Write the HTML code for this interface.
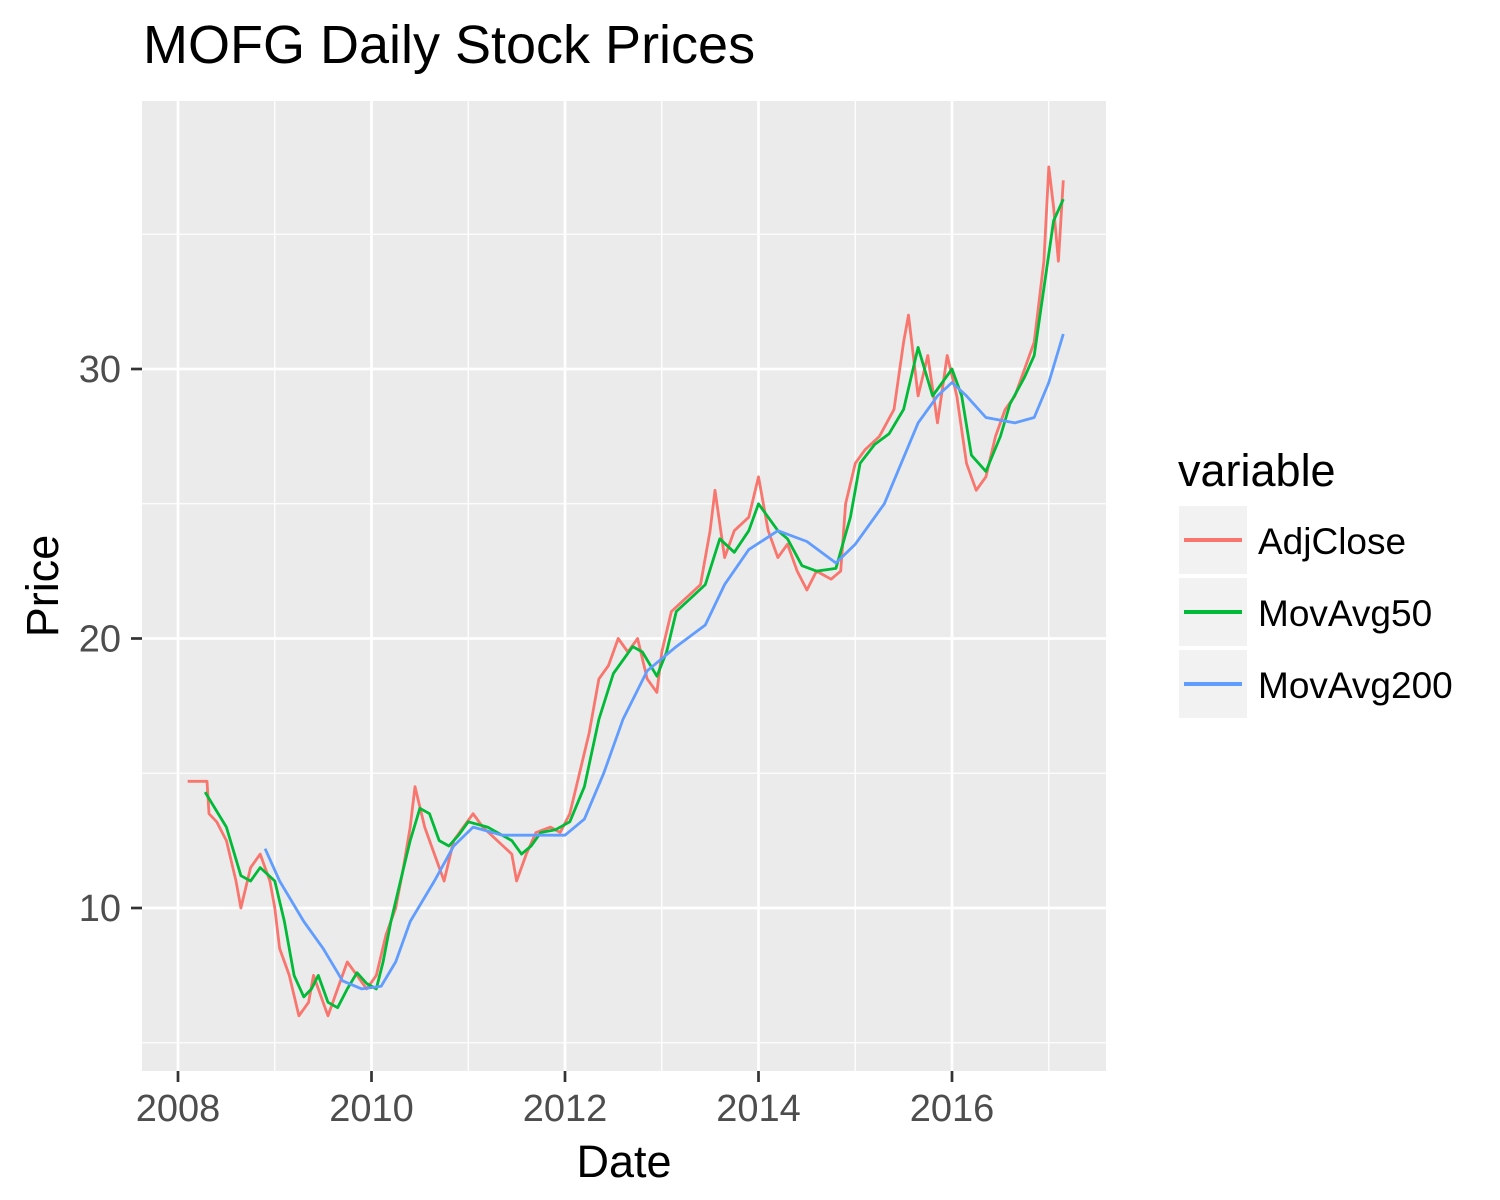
<!DOCTYPE html>
<html><head><meta charset="utf-8"><style>
html,body{margin:0;padding:0;background:#fff;}
svg{display:block;font-family:"Liberation Sans",Arial,sans-serif;}
</style></head><body>
<svg id="chart" width="1500" height="1200">
<text x="143" y="63" font-size="54" fill="#000">MOFG Daily Stock Prices</text>
<rect x="142" y="101" width="964" height="970" fill="#ebebeb"/>
<g id="grid"></g><g id="series"></g><g id="axes"></g>
<text x="624" y="1177" font-size="45" text-anchor="middle" fill="#000">Date</text>
<text transform="translate(58,586) rotate(-90)" font-size="45" text-anchor="middle" fill="#000">Price</text>
<g>
<text x="1178" y="486" font-size="45" fill="#000">variable</text>
<g><rect x="1179" y="506" width="68" height="68" fill="#f2f2f2"/><line x1="1184" x2="1242" y1="540" y2="540" stroke="#F8766D" stroke-width="4"/><text x="1258" y="554" font-size="37">AdjClose</text></g>
<g><rect x="1179" y="578" width="68" height="68" fill="#f2f2f2"/><line x1="1184" x2="1242" y1="612" y2="612" stroke="#00BA38" stroke-width="4"/><text x="1258" y="626" font-size="37">MovAvg50</text></g>
<g><rect x="1179" y="650" width="68" height="68" fill="#f2f2f2"/><line x1="1184" x2="1242" y1="684" y2="684" stroke="#619CFF" stroke-width="4"/><text x="1258" y="698" font-size="37">MovAvg200</text></g>
</g>
</svg>
<script>
const adjDates=[2008.1,2008.3,2008.32,2008.4,2008.5,2008.6,2008.65,2008.75,2008.85,2008.95,2009.0,2009.05,2009.15,2009.25,2009.35,2009.4,2009.5,2009.55,2009.65,2009.75,2009.85,2009.95,2010.05,2010.15,2010.25,2010.33,2010.4,2010.45,2010.55,2010.65,2010.75,2010.85,2010.95,2011.05,2011.15,2011.3,2011.45,2011.5,2011.6,2011.7,2011.85,2011.95,2012.05,2012.15,2012.25,2012.35,2012.45,2012.55,2012.65,2012.75,2012.85,2012.95,2013.0,2013.1,2013.25,2013.4,2013.5,2013.55,2013.65,2013.75,2013.9,2014.0,2014.1,2014.2,2014.3,2014.4,2014.5,2014.6,2014.75,2014.85,2014.9,2015.0,2015.1,2015.25,2015.4,2015.5,2015.55,2015.65,2015.75,2015.85,2015.95,2016.05,2016.15,2016.25,2016.35,2016.45,2016.55,2016.65,2016.75,2016.85,2016.95,2017.0,2017.05,2017.1,2017.15];
const adjClose=[14.7,14.7,13.5,13.2,12.5,11,10,11.5,12,11,10,8.5,7.5,6,6.5,7.5,6.5,6,7,8,7.5,7,7.5,9,10,11.5,13,14.5,13,12,11,12.5,13,13.5,13,12.5,12,11,12,12.8,13,12.8,13.5,15,16.5,18.5,19,20,19.5,20,18.5,18,19.5,21,21.5,22,24,25.5,23,24,24.5,26,24,23,23.5,22.5,21.8,22.5,22.2,22.5,25,26.5,27,27.5,28.5,31,32,29,30.5,28,30.5,29,26.5,25.5,26,27.5,28.5,29,30,31,34,37.5,36,34,37];
const ma50Dates=[2008.28,2008.5,2008.65,2008.75,2008.85,2009.0,2009.1,2009.2,2009.3,2009.38,2009.45,2009.55,2009.65,2009.75,2009.85,2009.95,2010.05,2010.12,2010.2,2010.3,2010.4,2010.5,2010.6,2010.7,2010.8,2010.9,2011.0,2011.2,2011.35,2011.45,2011.55,2011.65,2011.75,2011.9,2012.05,2012.2,2012.35,2012.5,2012.7,2012.8,2012.95,2013.05,2013.15,2013.3,2013.45,2013.6,2013.75,2013.9,2014.0,2014.2,2014.3,2014.45,2014.6,2014.8,2014.95,2015.05,2015.2,2015.35,2015.5,2015.65,2015.8,2015.9,2016.0,2016.1,2016.2,2016.35,2016.5,2016.6,2016.75,2016.85,2016.95,2017.05,2017.15];
const ma50=[14.3,13,11.2,11,11.5,11,9.5,7.5,6.7,7,7.5,6.5,6.3,7,7.6,7.2,7,8,9.5,11,12.5,13.7,13.5,12.5,12.3,12.7,13.2,13,12.7,12.5,12,12.3,12.8,12.9,13.2,14.5,17,18.7,19.7,19.5,18.6,19.5,21,21.5,22,23.7,23.2,24,25,24,23.7,22.7,22.5,22.6,24.5,26.5,27.2,27.6,28.5,30.8,29,29.5,30,29,26.8,26.2,27.5,28.7,29.7,30.5,33,35.5,36.3];
const ma200Dates=[2008.9,2009.05,2009.3,2009.5,2009.7,2009.9,2010.1,2010.25,2010.4,2010.65,2010.85,2011.05,2011.35,2011.7,2012.0,2012.2,2012.4,2012.6,2012.85,2013.15,2013.45,2013.65,2013.9,2014.2,2014.5,2014.8,2015.0,2015.3,2015.65,2015.85,2016.0,2016.15,2016.35,2016.65,2016.85,2017.0,2017.15];
const ma200=[12.2,11,9.5,8.5,7.3,7,7.1,8,9.5,11,12.3,13,12.7,12.7,12.7,13.3,15,17,18.8,19.7,20.5,22,23.3,24,23.6,22.8,23.5,25,28,29,29.5,29,28.2,28,28.2,29.5,31.3];
const xTicks=[2008,2010,2012,2014,2016];
const yTicks=[10,20,30];
const yMinor=[5,15,25,35];

const X=v=>178+(v-2008)*96.75;
const Y=v=>369-(v-30)*26.95;
const NS="http://www.w3.org/2000/svg";
function mk(tag,attrs,parent){const e=document.createElementNS(NS,tag);for(const k in attrs)e.setAttribute(k,attrs[k]);parent.appendChild(e);return e;}
const grid=document.getElementById('grid'),axes=document.getElementById('axes'),ser=document.getElementById('series');
yMinor.forEach(v=>{const l=mk('line',{x1:142,x2:1106,y1:Y(v),y2:Y(v),stroke:'#fff','stroke-width':1.3},grid);

});
xTicks.forEach(v=>{const l=mk('line',{x1:X(v+1),x2:X(v+1),y1:101,y2:1071,stroke:'#fff','stroke-width':1.3},grid);

});
yTicks.forEach(v=>{const l=mk('line',{x1:142,x2:1106,y1:Y(v),y2:Y(v),stroke:'#fff','stroke-width':2.7},grid);


const t=mk('line',{x1:131,x2:142,y1:Y(v),y2:Y(v),stroke:'#333','stroke-width':2.7},axes);


const tx=mk('text',{x:121,y:Y(v)+13,'font-size':38,'text-anchor':'end',fill:'#4d4d4d'},axes);tx.textContent=v;

});
xTicks.forEach(v=>{const l=mk('line',{x1:X(v),x2:X(v),y1:101,y2:1071,stroke:'#fff','stroke-width':2.7},grid);


const t=mk('line',{x1:X(v),x2:X(v),y1:1071,y2:1082,stroke:'#333','stroke-width':2.7},axes);


const tx=mk('text',{x:X(v),y:1121,'font-size':38,'text-anchor':'middle',fill:'#4d4d4d'},axes);tx.textContent=v;

});
function line(xs,ys,color,name){const p=mk('polyline',{points:xs.map((d,i)=>X(d).toFixed(1)+','+Y(ys[i]).toFixed(1)).join(' '),fill:'none',stroke:color,'stroke-width':2.8,'stroke-linejoin':'round'},ser);

}
line(adjDates,adjClose,'#F8766D','adjclose-line');
line(ma50Dates,ma50,'#00BA38','movavg50-line');
line(ma200Dates,ma200,'#619CFF','movavg200-line');
</script>
</body></html>
